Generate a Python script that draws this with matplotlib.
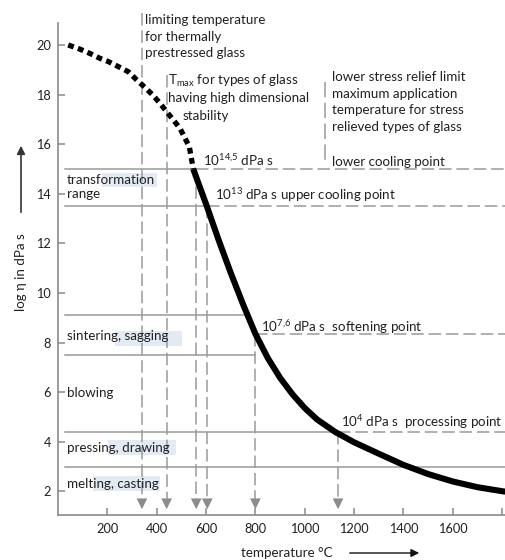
import matplotlib
matplotlib.use('Agg')
import matplotlib.pyplot as plt
from matplotlib.patches import Rectangle

plt.rcParams['font.family'] = ['Lato', 'DejaVu Sans']
plt.rcParams['mathtext.fontset'] = 'custom'
plt.rcParams['mathtext.rm'] = 'Lato'
plt.rcParams['mathtext.it'] = 'Lato:italic'
plt.rcParams['lines.scale_dashes'] = False

# viscosity curve: dotted part (below transformation) and solid part
dot_T = [41, 89, 129, 170, 204, 244, 285, 319, 352, 384, 413, 440, 467, 494, 515, 532, 548]
dot_eta = [20.0, 19.83, 19.66, 19.46, 19.33, 19.13, 18.92, 18.59, 18.29, 17.98, 17.65,
           17.31, 16.98, 16.64, 16.23, 15.9, 15.0]
solid_T = [548, 575, 603, 650, 700, 750, 800, 850, 900, 950, 1000, 1050, 1123, 1200,
           1300, 1400, 1500, 1600, 1700, 1805, 1816]
solid_eta = [15.0, 14.26, 13.5, 12.16, 10.81, 9.54, 8.35, 7.38, 6.58, 5.92, 5.36, 4.9,
             4.4, 3.98, 3.52, 3.07, 2.7, 2.4, 2.17, 2.0, 1.99]

# horizontal reference levels
h_levels = [15.0, 13.5, 9.1, 7.5, 8.35, 4.4, 3.0]
h_solid_to = [560, 605, 755, 800, None, 1135, 1816]
h_dash_from = [560, 605, None, None, 800, 1135, None]

# vertical reference temperatures with arrows
v_temps = [340, 440, 560, 605, 800, 1135]
v_tops = [21.28, 18.79, 15.0, 13.5, 8.35, 4.4]

x_ticks = [200, 400, 600, 800, 1000, 1200, 1400, 1600, 1800]
x_labels = ['200', '400', '600', '800', '1000', '1200', '1400', '1600', '']
y_ticks = [2, 4, 6, 8, 10, 12, 14, 16, 18, 20]

# working ranges on the left
ranges = ['transformation\nrange', 'sintering, sagging', 'blowing', 'pressing, drawing', 'melting, casting']

W, H = 506, 560
fig = plt.figure(figsize=(W / 100, H / 100), dpi=100)
ax = fig.add_axes([58.1 / W, 45 / H, (W - 58.1) / W, 492 / H])
ax.set_xlim(0, 1816)
ax.set_ylim(1.048, 20.887)

TXT = '#231f20'
GREY = '#9a9a9a'
FS = 9.6

for s in ['top', 'right']:
    ax.spines[s].set_visible(False)
for s in ['left', 'bottom']:
    ax.spines[s].set_color('#8a8a8a')
    ax.spines[s].set_linewidth(1.2)

ax.set_xticks(x_ticks)
ax.set_xticklabels(x_labels)
ax.set_yticks(y_ticks)
ax.tick_params(direction='in', length=5, width=1.1, color='#8a8a8a', labelsize=9.2,
               labelcolor=TXT)
ax.tick_params(axis='x', pad=6)
ax.tick_params(axis='y', pad=5)

# highlight boxes behind some labels
boxes = [(178, 14.27, 223, 0.57), (231, 7.86, 272, 0.61), (202, 3.47, 276, 0.6), (141, 2.0, 272, 0.62)]
for bx, by, bw, bh in boxes:
    ax.add_patch(Rectangle((bx, by), bw, bh, facecolor='#e2ebf3', edgecolor='none', zorder=0))

dash = (0, (9, 3.5))
for lev, s_to, d_from in zip(h_levels, h_solid_to, h_dash_from):
    if s_to is not None:
        ax.plot([28, s_to], [lev, lev], color=GREY, lw=1.1, zorder=1)
    if d_from is not None:
        ax.plot([d_from, 1816], [lev, lev], color=GREY, lw=1.1, ls=dash, zorder=1)

for t, top in zip(v_temps, v_tops):
    ax.plot([t, t], [top, 1.66], color=GREY, lw=1.1, ls=dash, zorder=1, clip_on=False)
ax.scatter(v_temps, [1.5] * len(v_temps), marker='v', s=60, color='#8c8c8c',
           edgecolors='none', zorder=2)

# separator for right block
ax.plot([1083, 1083], [18.5, 15.16], color=GREY, lw=1.1, ls=(0, (11, 4)))

# curve
ax.plot(dot_T, dot_eta, color='black', lw=3.8, ls=(0, (4.2, 3.2)), solid_capstyle='butt',
        dash_capstyle='butt', zorder=3, clip_on=False)
ax.plot(solid_T, solid_eta, color='black', lw=4.4, solid_capstyle='butt',
        solid_joinstyle='round', zorder=3)


def block(x, y0, lines, step=0.673):
    for i, s in enumerate(lines):
        ax.text(x, y0 - i * step, s, fontsize=FS, color=TXT, ha='left', va='center',
                clip_on=False)


block(353, 21.01, ['limiting temperature', 'for thermally', 'prestressed glass'])
block(446, 18.55, [r'T$_{\mathrm{max}}$ for types of glass', 'having high dimensional'])
block(503, 17.14, ['stability'])
block(1110, 18.71, ['lower stress relief limit', 'maximum application',
                    'temperature for stress', 'relieved types of glass'])
block(1110, 15.28, ['lower cooling point'])
block(588, 15.36, [r'10$^{14{,}5}$ dPa s'])
block(636, 13.95, [r'10$^{13}$ dPa s upper cooling point'])
block(822, 8.64, [r'10$^{7{,}6}$ dPa s  softening point'])
block(1147, 4.81, [r'10$^{4}$ dPa s  processing point'])

block(36, 14.56, ranges[0].split('\n'), step=0.56)
block(36, 8.27, [ranges[1]])
block(36, 5.98, [ranges[2]])
block(36, 3.75, [ranges[3]])
block(36, 2.30, [ranges[4]])

# axis labels with arrows
fig.text(21 / W, 1 - 272 / H, 'log η in dPa s', rotation=90, ha='center', va='center',
         fontsize=FS, color=TXT)
fig.text(287 / W, 1 - 553 / H, 'temperature °C', ha='center', va='center', fontsize=FS, color=TXT)
ax.annotate('', xy=(21 / W, 1 - 143 / H), xytext=(21 / W, 1 - 215 / H), xycoords='figure fraction',
            arrowprops=dict(arrowstyle='-|>', color='#333333', lw=1.2, mutation_scale=12))
ax.annotate('', xy=(422 / W, 1 - 553 / H), xytext=(347 / W, 1 - 553 / H), xycoords='figure fraction',
            arrowprops=dict(arrowstyle='-|>', color='#111111', lw=1.0, mutation_scale=12))

fig.savefig('out.png', dpi=100)
